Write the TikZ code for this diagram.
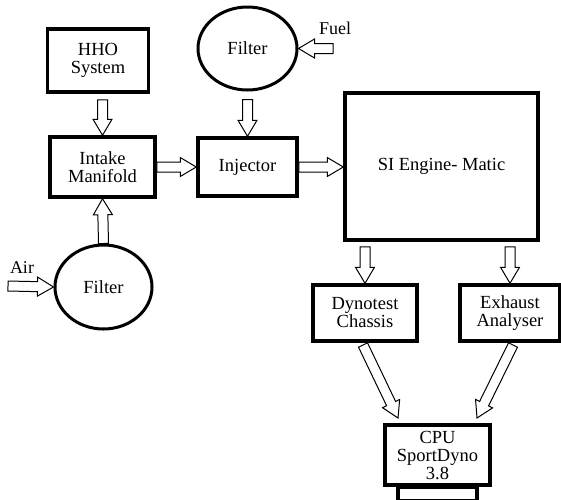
\documentclass[tikz,border=0pt]{standalone}
\usepackage{fontspec}
\setmainfont{Liberation Serif}
\usepackage{tikz}
\usetikzlibrary{calc,shapes.geometric}
\tikzset{
  Block/.style={
    draw, line width=3.5pt, fill=white,
    align=center, inner sep=2pt,
    font=\fontsize{18.5}{18}\selectfont
  },
  FilterEll/.style={
    draw, ellipse, line width=3pt, inner sep=0pt,
    minimum width=97pt, minimum height=84pt,
    font=\fontsize{18.5}{18}\selectfont
  },
  Label/.style={font=\fontsize{18}{18}\selectfont, inner sep=0pt},
  BlockArr/.style={draw, line width=1pt, fill=white, line join=miter}
}
\newcommand{\BlockArrow}[2]{%
  % #1 = start point, #2 = tip point
  % hollow block arrow: shaft 10pt wide, head 19pt wide, 16pt long
  \coordinate (ba-base) at ($(#2)!16pt!(#1)$);
  \draw[BlockArr] ($(#1)!5pt!90:(#2)$) -- ($(ba-base)!5pt!90:(#2)$)
    -- ($(ba-base)!9.5pt!90:(#2)$) -- (#2)
    -- ($(ba-base)!9.5pt!-90:(#2)$) -- ($(ba-base)!5pt!-90:(#2)$)
    -- ($(#1)!5pt!-90:(#2)$) -- cycle;
}

\begin{document}
\begin{tikzpicture}[x=1pt, y=-1pt, line cap=butt]
  \useasboundingbox (0,0) rectangle (561,499);

  % blocks
  \node[Block, minimum width=101pt, minimum height=63pt] (hho) at (98,60.5) {HHO\\System};
  \node[Block, minimum width=105pt, minimum height=60pt] (intake) at (102.5,167) {Intake\\Manifold};
  \node[Block, minimum width=99pt, minimum height=58pt] (injector) at (247.5,167) {Injector};
  \node[Block, minimum width=193pt, minimum height=147pt] (engine) at (441.5,166.5) {SI Engine- Matic};
  \node[Block, minimum width=104pt, minimum height=56pt] (dyno) at (365,313) {Dynotest\\Chassis};
  \node[Block, minimum width=100pt, minimum height=56pt] (exhaust) at (510,313) {Exhaust\\Analyser};
  \node[Block, minimum width=105pt, minimum height=60pt] (cpu) at (437.5,455) {CPU\\SportDyno\\3.8};
  \draw[line width=3.5pt] (398,487) rectangle (477,501);

  % filters
  \node[FilterEll, minimum width=99pt, minimum height=83pt] (fueltop) at (247.5,48.5) {Filter};
  \node[FilterEll] (airfilter) at (103.5,287) {Filter};

  % inputs
  \node[Label] (fuel) at (335,28) {Fuel};
  \node[Label] (air) at (22,268) {Air};
  \coordinate (fuel-in) at (333,48.5);
  \coordinate (air-in) at (8,286);

  % arrows
  \coordinate (hho-out) at ([yshift=-6pt]hho.south -| intake.north);
  \coordinate (ft-out) at ([yshift=-8pt]fueltop.south);
  \coordinate (en-dyno) at ([yshift=-5pt]engine.south -| dyno.north);
  \coordinate (en-exh) at ([yshift=-5pt]engine.south -| exhaust.north);
  \coordinate (dyno-out) at (363,345);
  \coordinate (dyno-cpu) at (398,418);
  \coordinate (exh-out) at (513,345);
  \coordinate (exh-cpu) at (477,418);

  \BlockArrow{hho-out}{intake.north}
  \BlockArrow{ft-out}{injector.north}
  \BlockArrow{airfilter.north}{intake.south}
  \BlockArrow{intake.east}{injector.west}
  \BlockArrow{injector.east}{engine.west |- injector.east}
  \BlockArrow{fuel-in}{fueltop.east}
  \BlockArrow{air-in}{airfilter.west}
  \BlockArrow{en-dyno}{dyno.north}
  \BlockArrow{en-exh}{exhaust.north}
  \BlockArrow{dyno-out}{dyno-cpu}
  \BlockArrow{exh-out}{exh-cpu}
\end{tikzpicture}
\end{document}
